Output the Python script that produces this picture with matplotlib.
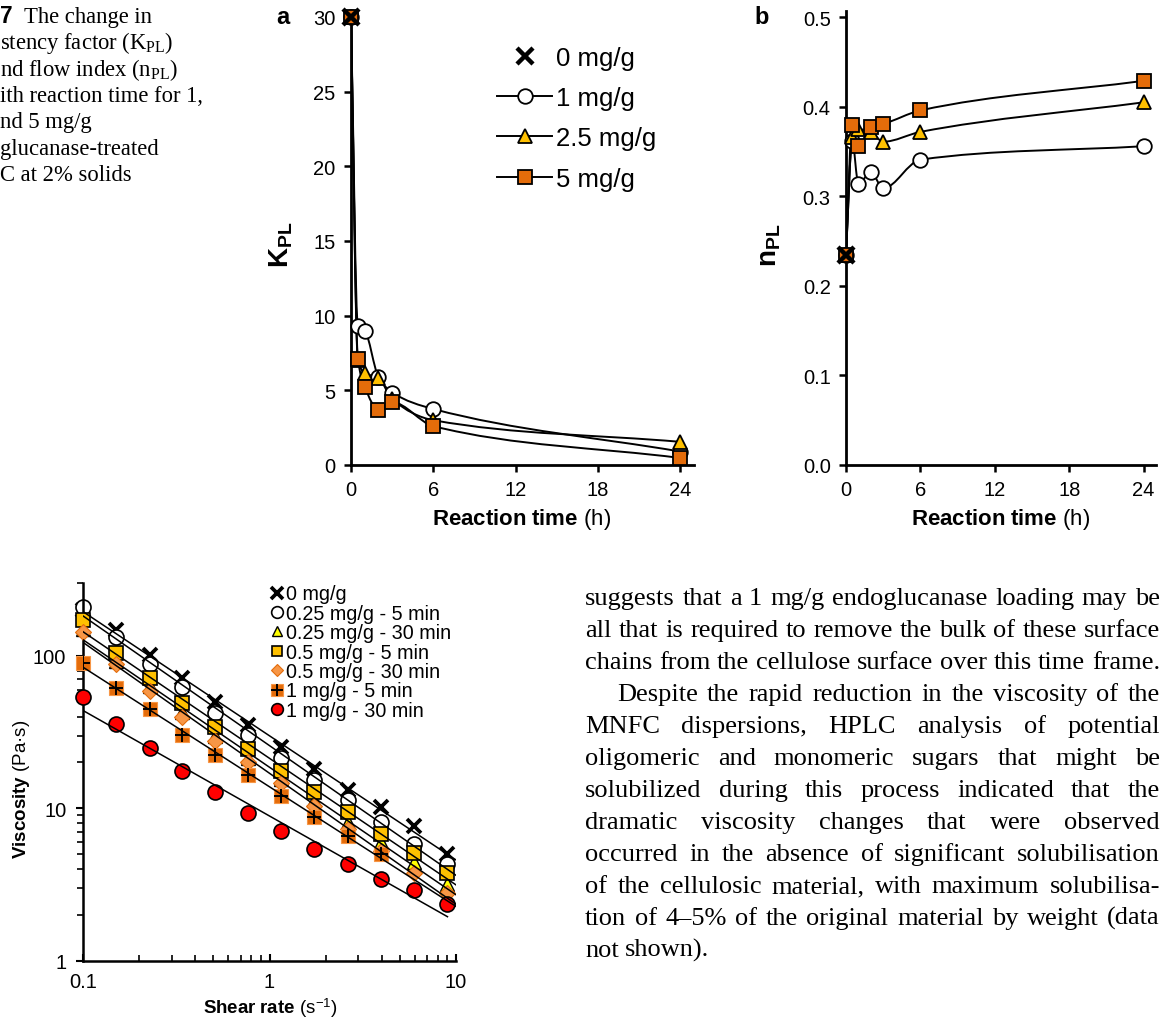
import numpy as np
import matplotlib
matplotlib.use('Agg')
import matplotlib.pyplot as plt
from matplotlib.path import Path
from matplotlib.patches import PathPatch
from matplotlib.lines import Line2D
from matplotlib.legend_handler import HandlerTuple
import matplotlib.ticker as mticker

plt.rcParams['font.family'] = ['Liberation Sans', 'DejaVu Sans']
plt.rcParams['mathtext.fontset'] = 'custom'
plt.rcParams['mathtext.rm'] = 'Liberation Serif'
plt.rcParams['mathtext.it'] = 'Liberation Serif:italic'
plt.rcParams['mathtext.bf'] = 'Liberation Sans:bold'
plt.rcParams['mathtext.sf'] = 'Liberation Sans'

# ---------------- data: panels a / b ----------------
time_h = [0, 0.5, 1, 2, 3, 6, 24]
time_ticks = [0, 6, 12, 18, 24]
K_1mg = [30, 9.3, 9.0, 5.9, 4.85, 3.75, 0.9]
K_2p5mg = [30, 7.0, 6.15, 5.85, 4.4, 3.0, 1.55]
K_5mg = [30, 7.1, 5.25, 3.7, 4.2, 2.6, 0.47]
K_0mg = [30]
n_1mg = [0.235, 0.362, 0.314, 0.327, 0.309, 0.341, 0.356]
n_2p5mg = [0.235, 0.366, 0.375, 0.372, 0.361, 0.372, 0.405]
n_5mg = [0.235, 0.380, 0.356, 0.378, 0.381, 0.396, 0.429]
n_0mg = [0.235]
K_ticks = [0, 5, 10, 15, 20, 25, 30]
n_ticks = [0.0, 0.1, 0.2, 0.3, 0.4, 0.5]
kin_labels = ['0 mg/g', '1 mg/g', '2.5 mg/g', '5 mg/g']

# ---------------- data: viscosity chart ----------------
shear = [0.1, 0.15, 0.23, 0.34, 0.51, 0.77, 1.15, 1.74, 2.63, 3.96, 5.98, 9.0]
visc_0 = [200, 147, 101, 71.7, 50.1, 35.4, 25.1, 18.0, 13.2, 10.2, 7.63, 5.0]
visc_025_5 = [210, 132, 88, 62.1, 42.5, 30.5, 21.5, 15.4, 11.4, 8.15, 5.84, 4.3]
visc_025_30 = [150, 93, 63, 43, 30, 21.5, 15.5, 11.3, 8.2, 6.0, 4.45, 3.2]
visc_05_5 = [171, 105, 71.7, 48.9, 34.1, 24.5, 17.6, 12.9, 9.5, 6.8, 5.14, 3.79]
visc_05_30 = [143, 88, 59, 39.8, 27.8, 20.1, 14.7, 10.3, 7.35, 5.27, 3.79, 2.78]
shear_1_5 = [0.1, 0.15, 0.23, 0.34, 0.51, 0.77, 1.15, 1.74, 2.63, 3.96]
visc_1_5 = [90.3, 61.5, 44.8, 30.5, 22.4, 16.5, 12.1, 8.8, 6.58, 5.06]
visc_1_30 = [54.1, 35.9, 24.9, 17.7, 12.9, 9.26, 7.06, 5.41, 4.3, 3.47, 2.9, 2.36]
visc_labels = ['0 mg/g', '0.25 mg/g - 5 min', '0.25 mg/g - 30 min', '0.5 mg/g - 5 min',
               '0.5 mg/g - 30 min', '1 mg/g - 5 min', '1 mg/g - 30 min']
visc_xticks = [0.1, 1, 10]
visc_xtick_labels = ['0.1', '1', '10']
visc_yticks = [1, 10, 100]
visc_ytick_labels = ['1', '10', '100']

# ---------------- text ----------------
caption_lines = [
    (r'$\mathbf{7}$', 'The change in'),
    (None, r'stency factor (K$_\mathrm{PL}$)'),
    (None, r'nd flow index (n$_\mathrm{PL}$)'),
    (None, 'ith reaction time for 1,'),
    (None, 'nd 5 mg/g'),
    (None, 'glucanase-treated'),
    (None, 'C at 2% solids'),
]
body_lines = [
    ('suggests that a 1 mg/g endoglucanase loading may be', True, False),
    ('all that is required to remove the bulk of these surface', True, False),
    ('chains from the cellulose surface over this time frame.', True, False),
    ('Despite the rapid reduction in the viscosity of the', True, True),
    ('MNFC dispersions, HPLC analysis of potential', True, False),
    ('oligomeric and monomeric sugars that might be', True, False),
    ('solubilized during this process indicated that the', True, False),
    ('dramatic viscosity changes that were observed', True, False),
    ('occurred in the absence of significant solubilisation', True, False),
    ('of the cellulosic material, with maximum solubilisa-', True, False),
    ('tion of 4\u20135% of the original material by weight (data', True, False),
    ('not shown).', False, False),
]

W, H = 1167, 1020
fig = plt.figure(figsize=(W / 100, H / 100), dpi=100)


def add_ax(left, top, right, bottom):
    return fig.add_axes([left / W, 1 - bottom / H, (right - left) / W, (bottom - top) / H])


def smooth_path(x, y):
    x = np.asarray(x, float)
    y = np.asarray(y, float)
    n = len(x)
    d = np.diff(y) / np.diff(x)
    m = np.zeros(n)
    m[0], m[-1] = d[0], d[-1]
    for i in range(1, n - 1):
        if d[i - 1] * d[i] <= 0:
            m[i] = 0.0
        else:
            h0, h1 = x[i] - x[i - 1], x[i + 1] - x[i]
            w1, w2 = 2 * h1 + h0, h1 + 2 * h0
            m[i] = (w1 + w2) / (w1 / d[i - 1] + w2 / d[i])
    verts = [(x[0], y[0])]
    codes = [Path.MOVETO]
    for i in range(n - 1):
        h = x[i + 1] - x[i]
        verts += [(x[i] + h / 3, y[i] + m[i] * h / 3),
                  (x[i + 1] - h / 3, y[i + 1] - m[i + 1] * h / 3),
                  (x[i + 1], y[i + 1])]
        codes += [Path.CURVE4] * 3
    return Path(verts, codes)


ORANGE = '#E46C0A'
GOLD = '#FFC000'
circle_kw = dict(marker='o', ms=10.5, mfc='white', mec='black', mew=1.3)
tri_kw = dict(marker='^', ms=10.5, mfc=GOLD, mec='black', mew=1.3)
sq_kw = dict(marker='s', ms=10, mfc=ORANGE, mec='black', mew=1.3)
x_kw = dict(marker='x', ms=11, mew=3.2, color='black')


def style_kin(ax, ylim, yticks, ylabels):
    ax.set_xlim(0, 25)
    ax.set_ylim(*ylim)
    ax.set_xticks(time_ticks)
    ax.set_yticks(yticks, ylabels)
    for s in ['top', 'right']:
        ax.spines[s].set_visible(False)
    for s in ['left', 'bottom']:
        ax.spines[s].set_linewidth(2.0)
    ax.tick_params(direction='out', length=5, width=1.8, labelsize=14.5, pad=6)


def kin_panel(ax, ys, zero):
    for yv, kw, z in zip(ys, [circle_kw, tri_kw, sq_kw], [3, 4, 5]):
        ax.add_patch(PathPatch(smooth_path(time_h, yv), fill=False, lw=1.4, ec='black', zorder=2))
        ax.plot(time_h, yv, ls='none', zorder=z, clip_on=False, **kw)
    ax.plot(time_h[:1], zero, ls='none', zorder=6, clip_on=False, **x_kw)


# ---------- panel a ----------
ax_a = add_ax(351, 12, 694, 466)
kin_panel(ax_a, [K_1mg, K_2p5mg, K_5mg], K_0mg)
style_kin(ax_a, (0, 30.4), K_ticks, [str(v) for v in K_ticks])

# ---------- panel b ----------
ax_b = add_ax(846, 12, 1156, 466)
kin_panel(ax_b, [n_1mg, n_2p5mg, n_5mg], n_0mg)
style_kin(ax_b, (0, 0.507), n_ticks, ['%.1f' % v for v in n_ticks])

kin_handles = [Line2D([], [], ls='none', **x_kw),
               Line2D([], [], color='black', lw=1.4, **circle_kw),
               Line2D([], [], color='black', lw=1.4, **tri_kw),
               Line2D([], [], color='black', lw=1.4, **sq_kw)]
ax_a.legend(kin_handles, kin_labels, loc='upper left', bbox_to_anchor=(497 / W, 1 - 47 / H),
            bbox_transform=fig.transFigure, frameon=False, fontsize=18.5, handlelength=2.15,
            handletextpad=0.15, borderpad=0, borderaxespad=0, labelspacing=0.63)

fig.text(283 / W, 1 - 18 / H, 'a', fontsize=17, fontweight='bold', ha='center', va='center')
fig.text(762 / W, 1 - 18 / H, 'b', fontsize=17, fontweight='bold', ha='center', va='center')
fig.text(522 / W, 1 - 520 / H, r'$\mathbf{Reaction\ time}$ (h)', fontsize=16, ha='center', va='center')
fig.text(1001 / W, 1 - 520 / H, r'$\mathbf{Reaction\ time}$ (h)', fontsize=16, ha='center', va='center')
fig.text(281 / W, 1 - 245 / H, r'$\mathbf{K_{PL}}$', fontsize=20, rotation=90, ha='center', va='center')
fig.text(770 / W, 1 - 245 / H, r'$\mathbf{n_{PL}}$', fontsize=20, rotation=90, ha='center', va='center')

# ---------- viscosity chart ----------
ax_v = add_ax(83, 584, 456, 962)
ax_v.set_xscale('log')
ax_v.set_yscale('log')
ax_v.set_xlim(0.1, 10)
ax_v.set_ylim(1, 300)

v_series = [
    (shear, visc_0, dict(marker='x', ms=10.5, mew=2.7, color='black'), 1, 10),
    (shear, visc_025_5, dict(marker='o', ms=10.8, mfc='white', mec='black', mew=1.2), 2, 10),
    (shear, visc_025_30, dict(marker='^', ms=10, mfc='#FFFF00', mec='black', mew=1.0), 3, 10),
    (shear, visc_05_5, dict(marker='s', ms=10, mfc=GOLD, mec='black', mew=1.2), 4, 10),
    (shear, visc_05_30, dict(marker='D', ms=8, mfc='#F79646', mec=ORANGE, mew=0.8), 5, 10),
    (shear_1_5, visc_1_5, dict(marker='s', ms=10.5, mfc=ORANGE, mec='#F79646', mew=0.8), 6, 10),
    (shear, visc_1_30, dict(marker='o', ms=10.8, mfc='#FF0000', mec='black', mew=1.2), 7, 9.0),
]
v_handles = []
for xs, ys, kw, z, xend in v_series:
    ax_v.plot(xs, ys, ls='none', zorder=z, clip_on=False, **kw)
    p = np.polyfit(np.log10(xs), np.log10(ys), 1)
    xe = np.array([xs[0], xend])
    ax_v.plot(xe, 10 ** np.polyval(p, np.log10(xe)), color='black', lw=1.1, zorder=8)
    v_handles.append(Line2D([], [], ls='none', **kw))
plus_kw = dict(marker='+', ms=10.5, mew=1.4, color='black')
ax_v.plot(shear_1_5, visc_1_5, ls='none', zorder=6.5, **plus_kw)
v_handles[5] = (v_handles[5], Line2D([], [], ls='none', **plus_kw))

ax_v.set_xticks(visc_xticks, visc_xtick_labels)
ax_v.set_yticks(visc_yticks, visc_ytick_labels)
ax_v.xaxis.set_minor_locator(mticker.LogLocator(subs=np.arange(2, 10)))
ax_v.yaxis.set_minor_locator(mticker.LogLocator(subs=np.arange(2, 10)))
ax_v.xaxis.set_minor_formatter(mticker.NullFormatter())
ax_v.yaxis.set_minor_formatter(mticker.NullFormatter())
for s in ['top', 'right']:
    ax_v.spines[s].set_visible(False)
for s in ['left', 'bottom']:
    ax_v.spines[s].set_linewidth(1.8)
ax_v.tick_params(axis='x', which='major', direction='in', length=5, width=1.5, labelsize=14.5, pad=8)
ax_v.tick_params(axis='x', which='minor', direction='in', length=4, width=1.2)
ax_v.tick_params(axis='y', which='major', direction='out', length=5, width=1.5, labelsize=14.5, pad=7)
ax_v.tick_params(axis='y', which='minor', direction='out', length=4, width=1.2)

ax_v.legend(v_handles, visc_labels, loc='upper left', bbox_to_anchor=(270 / W, 1 - 585.5 / H),
            bbox_transform=fig.transFigure, frameon=False, fontsize=14.2, handlelength=0.75,
            handletextpad=0.05, borderpad=0, borderaxespad=0, labelspacing=0.02,
            markerscale=0.78, handler_map={tuple: HandlerTuple(ndivide=1)})

fig.text(22 / W, 1 - 789 / H, r'$\mathbf{Viscosity}$ (Pa' + '\u00b7' + 's)', fontsize=13.5,
         rotation=90, ha='center', va='center')
fig.text(270 / W, 1 - 1008 / H, r'$\mathbf{Shear\ rate}$ (s$^{\mathsf{-1}}$)', fontsize=13.5,
         ha='center', va='center')

# ---------- caption (cut at the left page edge) ----------
cap_fs = 16.3
for i, (num, txt) in enumerate(caption_lines):
    yb = 1 - (23 + 26.3 * i) / H
    if num is not None:
        fig.text(-1 / W, yb, num, fontsize=cap_fs, va='baseline', ha='left')
        fig.text(24 / W, yb, txt, fontsize=cap_fs, va='baseline', ha='left', family='Liberation Serif')
    else:
        fig.text(0 / W, yb, txt, fontsize=cap_fs, va='baseline', ha='left', family='Liberation Serif')

# ---------- body text, justified ----------
renderer = fig.canvas.get_renderer()
body_fs = 19.0
x_left, x_right, indent = 585, 1160, 32
for i, (line, justify, ind) in enumerate(body_lines):
    yb = 1 - (605 + 32 * i) / H
    words = line.split(' ')
    texts = [fig.text(0, yb, w, fontsize=body_fs, va='baseline', ha='left', family='Liberation Serif')
             for w in words]
    widths = [t.get_window_extent(renderer=renderer).width for t in texts]
    x0 = x_left + (indent if ind else 0)
    space = 0.25 * body_fs * 100 / 72
    if justify and len(words) > 1:
        gap = (x_right - x0 - sum(widths)) / (len(words) - 1)
    else:
        gap = space
    x = x0
    for t, w in zip(texts, widths):
        t.set_x(x / W)
        x += w + gap

fig.savefig('out.png', dpi=100)
